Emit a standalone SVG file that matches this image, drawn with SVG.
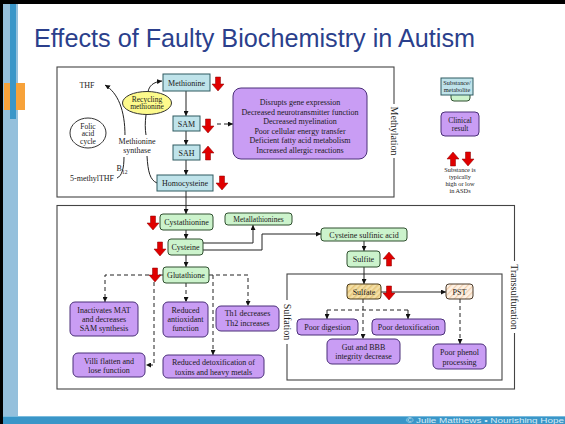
<svg xmlns="http://www.w3.org/2000/svg" width="565" height="424" viewBox="0 0 565 424">
<style>
.t{font-family:"Liberation Serif","Times New Roman",serif;fill:#1a1a1a;text-anchor:middle;font-size:8px}
.s7{font-size:7.5px}
.s6{font-size:6.3px}
.lab{font-size:10px}
.teal{fill:#bfe3ea;stroke:#2f5a60;stroke-width:1}
.green{fill:#ccf3cc;stroke:#2f4f2f;stroke-width:1}
.purple{fill:#c99df4;stroke:#4a2f78;stroke-width:1}
.sec{fill:#fff;stroke:#444;stroke-width:1.1}
.ln{fill:none;stroke:#222;stroke-width:1}
.dash{stroke-dasharray:4,3}
.red{fill:#e00000;stroke:#8a0000;stroke-width:0.5}
</style>
<defs>
<marker id="ah" viewBox="0 0 6 6" refX="6" refY="3" markerWidth="5" markerHeight="5" orient="auto" markerUnits="userSpaceOnUse"><path d="M0,0 L6,3 L0,6 Z" fill="#111"/></marker>
<path id="dn" d="M3.5,0 H8.5 V7 H12 L6,14 L0,7 H3.5 Z"/>
<path id="up" d="M6,0 L12,7 H8.5 V14 H3.5 V7 H0 Z"/>
<pattern id="hatch1" width="4" height="4" patternUnits="userSpaceOnUse" patternTransform="rotate(45)"><rect width="4" height="4" fill="#f3dfa6"/><rect width="1.5" height="4" fill="#e6c57a"/></pattern>
<pattern id="hatch2" width="4" height="4" patternUnits="userSpaceOnUse" patternTransform="rotate(45)"><rect width="4" height="4" fill="#fdf1e4"/><rect width="1.2" height="4" fill="#f2cfae"/></pattern>
</defs>

<!-- slide frame -->
<rect x="0" y="0" width="565" height="424" fill="#fff"/>
<rect x="0" y="0" width="565" height="4" fill="#000"/>
<rect x="0" y="0" width="3" height="424" fill="#000"/>
<rect x="3" y="4" width="15" height="412" fill="#95c0dc"/>
<rect x="4" y="83" width="21" height="27" fill="#f7a23a"/>
<rect x="10" y="4" width="6" height="115" fill="#3a96c8"/>
<rect x="3" y="416" width="562" height="8" fill="#3a96c8"/>
<rect x="3" y="416" width="562" height="0.8" fill="#8cc6e4"/>
<text x="564" y="423" font-family="Liberation Sans, Arial, sans-serif" font-size="8" fill="#d8ecf7" text-anchor="end" textLength="158" lengthAdjust="spacingAndGlyphs">© Julie Matthews • Nourishing Hope</text>
<text x="34" y="47" font-family="Liberation Sans, Arial, sans-serif" font-size="26" fill="#2b3f8c" textLength="441" lengthAdjust="spacingAndGlyphs">Effects of Faulty Biochemistry in Autism</text>

<!-- sections -->
<g id="methylation-section">
<rect class="sec" x="57" y="67" width="337" height="130"/>
<rect x="389" y="104" width="10" height="54" fill="#fff"/>
<text class="t lab" transform="translate(394,131) rotate(90)" dy="3.5">Methylation</text>
</g>
<g id="transsulfuration-section">
<rect class="sec" x="57" y="205.5" width="457.5" height="183.5"/>
<rect x="509" y="261" width="11" height="72" fill="#fff"/>
<text class="t lab" transform="translate(514,297) rotate(90)" dy="3.5">Transsulfuration</text>
</g>
<g id="sulfation-section">
<rect class="sec" x="287" y="274" width="215" height="106"/>
<rect x="282" y="300" width="10" height="44" fill="#fff"/>
<text class="t lab" transform="translate(287,322) rotate(90)" dy="3.5">Sulfation</text>
</g>

<!-- connectors -->
<g id="connectors">
<path class="ln" d="M125,136 C125,110 118,93 105,85" marker-end="url(#ah)"/>
<path class="ln" d="M148,92 C149,86 153,82 162,81" marker-end="url(#ah)"/>
<path class="ln" d="M146,115 C145,122 145,129 146,135"/>
<path class="ln" d="M124,157 C124,168 122,176 117,178"/>
<path class="ln" d="M147,156 C148,172 150,180 157,183"/>
<path class="ln" d="M186,91 V116" marker-end="url(#ah)"/>
<path class="ln" d="M186,131 V145" marker-end="url(#ah)"/>
<path class="ln" d="M186,160 V175" marker-end="url(#ah)"/>
<path class="ln dash" d="M217,124 H233" marker-end="url(#ah)"/>
<path class="ln" d="M186,191 V214" marker-end="url(#ah)"/>
<path class="ln" d="M186,230 V239" marker-end="url(#ah)"/>
<path class="ln" d="M203,243 H253 V225" marker-end="url(#ah)"/>
<path class="ln" d="M203,250 H262 V234 H321" marker-end="url(#ah)"/>
<path class="ln" d="M364,241 V251" marker-end="url(#ah)"/>
<path class="ln" d="M364,267 V284" marker-end="url(#ah)"/>
<path class="ln" d="M381,292 H446" marker-end="url(#ah)"/>
<path class="ln" d="M186,255 V267" marker-end="url(#ah)"/>
<path class="ln dash" d="M163,275 H105 V302" marker-end="url(#ah)"/>
<path class="ln dash" d="M154,275 V365 H146" marker-end="url(#ah)"/>
<path class="ln dash" d="M186,283 V302" marker-end="url(#ah)"/>
<path class="ln dash" d="M209,275 H248 V306" marker-end="url(#ah)"/>
<path class="ln dash" d="M213,275 V355" marker-end="url(#ah)"/>
<path class="ln dash" d="M363,299 V339" marker-end="url(#ah)"/>
<path class="ln dash" d="M327,310 H408"/>
<path class="ln dash" d="M327,310 V319" marker-end="url(#ah)"/>
<path class="ln dash" d="M408,310 V319" marker-end="url(#ah)"/>
<path class="ln dash" d="M460,299 V344" marker-end="url(#ah)"/>
</g>

<!-- methylation nodes -->
<g id="thf"><text class="t" x="87" y="88">THF</text></g>
<g id="folic-acid-cycle">
<ellipse cx="88" cy="133" rx="18" ry="15" fill="#fff" stroke="#333"/>
<text class="t s7" x="88" y="128.5">Folic</text>
<text class="t s7" x="88" y="136">acid</text>
<text class="t s7" x="88" y="143.5">cycle</text>
</g>
<g id="recycling-methionine">
<ellipse cx="147" cy="103" rx="24.5" ry="11.5" fill="#fdfa8c" stroke="#333"/>
<text class="t s7" x="147" y="101.5">Recycling</text>
<text class="t s7" x="147" y="109">methionine</text>
</g>
<g id="methionine-synthase">
<rect x="116" y="135" width="42" height="21" fill="#fff"/>
<text class="t" x="137" y="143.5">Methionine</text>
<text class="t" x="137" y="152.5">synthase</text>
</g>
<g id="methyl-thf"><text class="t" x="92" y="181">5-methylTHF</text></g>
<g id="b12"><text class="t" x="122" y="171" text-anchor="start">B<tspan font-size="5.5" dy="2.5">12</tspan></text></g>
<g id="methionine">
<rect class="teal" x="163" y="74" width="47" height="17"/>
<text class="t" x="186.5" y="85.5">Methionine</text>
<use href="#dn" class="red" x="212" y="77"/>
</g>
<g id="sam">
<rect class="teal" x="173" y="116" width="27" height="15"/>
<text class="t" x="186.5" y="126.5">SAM</text>
<use href="#dn" class="red" x="202" y="119"/>
</g>
<g id="sah">
<rect class="teal" x="173" y="145" width="27" height="15"/>
<text class="t" x="186.5" y="155.5">SAH</text>
<use href="#up" class="red" x="202" y="146"/>
</g>
<g id="homocysteine">
<rect class="teal" x="157" y="175" width="56" height="16"/>
<text class="t" x="185" y="186">Homocysteine</text>
<use href="#dn" class="red" x="216" y="176"/>
</g>
<g id="methylation-effects">
<rect class="purple" x="233" y="88" width="134" height="71" rx="8"/>
<text class="t" x="300" y="105">Disrupts gene expression</text>
<text class="t" x="300" y="114.5">Decreased neurotransmitter function</text>
<text class="t" x="300" y="124">Decreased myelination</text>
<text class="t" x="300" y="133.5">Poor cellular energy transfer</text>
<text class="t" x="300" y="143">Deficient fatty acid metabolism</text>
<text class="t" x="300" y="152.5">Increased allergic reactions</text>
</g>

<!-- legend -->
<g id="legend-substance">
<rect class="green" x="451" y="86" width="19" height="15" rx="3"/>
<rect class="teal" x="441" y="78" width="32" height="17"/>
<text class="t s6" x="457" y="84.5">Substance/</text>
<text class="t s6" x="457" y="92">metabolite</text>
</g>
<g id="legend-clinical">
<rect class="purple" x="441" y="112" width="38" height="24" rx="4"/>
<text class="t s7" x="460" y="123">Clinical</text>
<text class="t s7" x="460" y="131">result</text>
</g>
<g id="legend-arrows">
<use href="#up" class="red" x="447" y="152"/>
<use href="#dn" class="red" x="462" y="152"/>
<text class="t s6" x="460" y="172">Substance is</text>
<text class="t s6" x="460" y="179">typically</text>
<text class="t s6" x="460" y="186">high or low</text>
<text class="t s6" x="460" y="193">in ASDs</text>
</g>

<!-- transsulfuration nodes -->
<g id="cystathionine">
<rect class="green" x="160" y="214" width="53" height="16" rx="3"/>
<text class="t" x="186.5" y="225">Cystathionine</text>
<use href="#dn" class="red" x="147" y="216"/>
</g>
<g id="metallathionines">
<rect class="green" x="225" y="213" width="67" height="12" rx="3"/>
<text class="t s7" x="258.5" y="221.5">Metallathionines</text>
</g>
<g id="cysteine">
<rect class="green" x="168" y="239" width="35" height="16" rx="3"/>
<text class="t" x="185.5" y="250">Cysteine</text>
<use href="#dn" class="red" x="154" y="242"/>
</g>
<g id="cysteine-sulfinic-acid">
<rect class="green" x="321" y="228" width="86" height="13" rx="3"/>
<text class="t" x="364" y="237.5">Cysteine sulfinic acid</text>
</g>
<g id="sulfite">
<rect class="green" x="347" y="251" width="33" height="16" rx="3"/>
<text class="t" x="363.5" y="262">Sulfite</text>
<use href="#up" class="red" x="383" y="252"/>
</g>
<g id="glutathione">
<rect class="green" x="163" y="267" width="46" height="16" rx="3"/>
<text class="t" x="186" y="278">Glutathione</text>
<use href="#dn" class="red" x="149" y="268"/>
</g>
<g id="inactivates-mat">
<rect class="purple" x="70" y="302" width="68" height="34" rx="5"/>
<text class="t" x="104" y="313">Inactivates MAT</text>
<text class="t" x="104" y="322">and decreases</text>
<text class="t" x="104" y="331">SAM synthesis</text>
</g>
<g id="reduced-antioxidant">
<rect class="purple" x="163" y="302" width="45" height="35" rx="5"/>
<text class="t" x="185.5" y="313">Reduced</text>
<text class="t" x="185.5" y="322">antioxidant</text>
<text class="t" x="185.5" y="331">function</text>
</g>
<g id="th1-th2">
<rect class="purple" x="216" y="306" width="63" height="25" rx="5"/>
<text class="t" x="247.5" y="316">Th1 decreases</text>
<text class="t" x="247.5" y="325.5">Th2 increases</text>
</g>
<g id="villi">
<rect class="purple" x="73" y="353" width="72" height="24" rx="5"/>
<text class="t" x="109" y="363.5">Villi flatten and</text>
<text class="t" x="109" y="372.5">lose function</text>
</g>
<g id="reduced-detoxification">
<rect class="purple" x="163" y="355" width="101" height="23" rx="5"/>
<text class="t" x="213.5" y="365">Reduced detoxification of</text>
<text class="t" x="213.5" y="374.5">toxins and heavy metals</text>
</g>

<!-- sulfation nodes -->
<g id="sulfate">
<rect x="347" y="284" width="34" height="15" rx="3" fill="url(#hatch1)" stroke="#4a3a1a"/>
<text class="t" x="364" y="294.5">Sulfate</text>
<use href="#dn" class="red" x="383" y="286"/>
</g>
<g id="pst">
<rect x="446" y="284" width="27" height="15" rx="3" fill="url(#hatch2)" stroke="#4a3a2a"/>
<text class="t" x="459.5" y="294.5">PST</text>
</g>
<g id="poor-digestion">
<rect class="purple" x="297" y="319" width="61" height="16" rx="4"/>
<text class="t" x="327.5" y="330">Poor digestion</text>
</g>
<g id="poor-detoxification">
<rect class="purple" x="372" y="319" width="73" height="16" rx="4"/>
<text class="t" x="408.5" y="330">Poor detoxification</text>
</g>
<g id="gut-bbb">
<rect class="purple" x="327" y="339" width="73" height="25" rx="5"/>
<text class="t" x="363.5" y="349.5">Gut and BBB</text>
<text class="t" x="363.5" y="359">integrity decrease</text>
</g>
<g id="poor-phenol">
<rect class="purple" x="433" y="344" width="53" height="25" rx="5"/>
<text class="t" x="459.5" y="355">Poor phenol</text>
<text class="t" x="459.5" y="364.5">processing</text>
</g>
</svg>
